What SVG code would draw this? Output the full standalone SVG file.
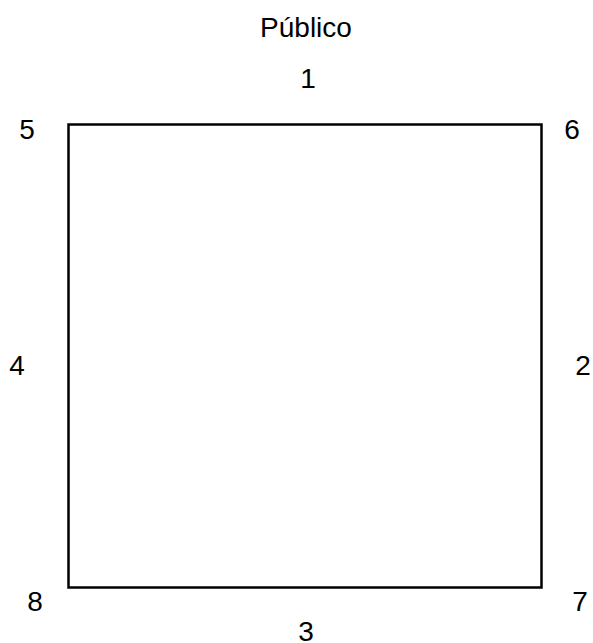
<svg xmlns="http://www.w3.org/2000/svg" width="593" height="643" viewBox="0 0 593 643">
<style>
text{font-family:"Liberation Sans",Arial,sans-serif;font-size:28px;fill:#000;text-anchor:middle}
.box{fill:none;stroke:#000;stroke-width:2.5}
</style>
<rect width="593" height="643" fill="#fff"/>
<g id="title"><text x="306" y="37">Público</text></g>
<g id="square"><rect class="box" x="68.5" y="124.5" width="473" height="463"/></g>
<g id="labels">
<text x="308" y="88">1</text>
<text x="583" y="375">2</text>
<text x="306" y="641">3</text>
<text x="17" y="375">4</text>
<text x="27" y="139">5</text>
<text x="572" y="139">6</text>
<text x="580" y="611">7</text>
<text x="35" y="611">8</text>
</g>
</svg>
